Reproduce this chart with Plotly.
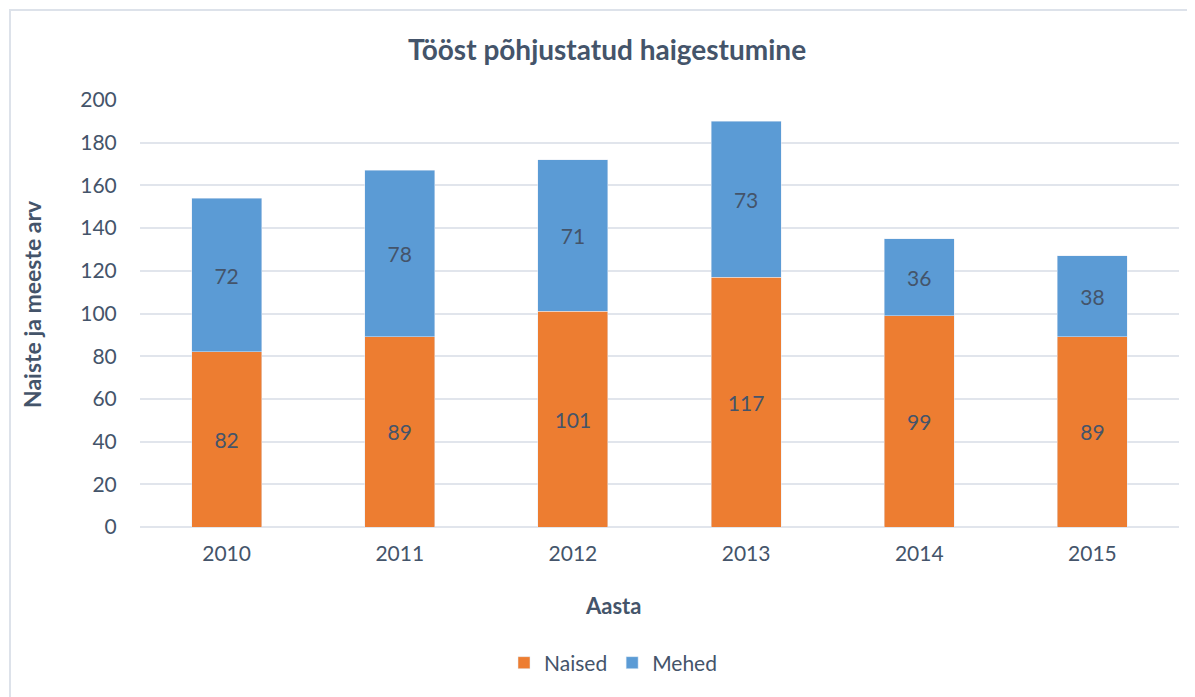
import plotly.graph_objects as go

years = ["2010", "2011", "2012", "2013", "2014", "2015"]
naised = [82, 89, 101, 117, 99, 89]
mehed = [72, 78, 71, 73, 36, 38]

W, H = 1195, 697
OFF = 8  # page offset of the figure in the browser
# target page-pixel positions of the plot area
PL, PR, PT, PB = 140, 1179, 100, 527
L, T = PL - OFF, PT - OFF
R = W - (PR - OFF)
B = H - (PB - OFF)
pw, ph = W - L - R, H - T - B

def px_x(x):
    return (x - OFF - L) / pw

def px_y(y):
    return (H - B - (y - OFF)) / ph

txt = "#44546A"
font = "Lato"

fig = go.Figure()
fig.add_trace(go.Bar(x=years, y=naised, name="Naised", marker_color="#ED7D31",
                     text=naised, textposition="inside", insidetextanchor="middle",
                     textfont=dict(color=txt, size=21, family=font)))
fig.add_trace(go.Bar(x=years, y=mehed, name="Mehed", marker_color="#5B9BD5",
                     text=mehed, textposition="inside", insidetextanchor="middle",
                     textfont=dict(color=txt, size=21, family=font)))

fig.update_layout(
    width=W, height=H,
    margin=dict(l=L, r=R, t=T, b=B),
    barmode="stack", bargap=0.595,
    plot_bgcolor="white", paper_bgcolor="white",
    font=dict(family=font, color=txt, size=21),
    title=dict(text="<b>Tööst põhjustatud haigestumine</b>", x=(607 - OFF) / W, xref="container",
               xanchor="center", y=1 - (50 - OFF) / H, yref="container", yanchor="middle",
               font=dict(size=28, color=txt, family=font)),
    xaxis=dict(showline=False, ticks="", tickfont=dict(size=21, color=txt), ticklabelstandoff=12),
    yaxis=dict(range=[0, 200], dtick=20, gridcolor="#E1E5EC", gridwidth=2, zeroline=True,
               zerolinecolor="#E1E5EC", zerolinewidth=2, tickfont=dict(size=21, color=txt),
               ticks="outside", ticklen=18, tickcolor="white"),
    legend=dict(orientation="h", x=(613 - OFF) / W, xref="container", xanchor="center",
                y=1 - (663 - OFF) / H, yref="container", yanchor="middle",
                font=dict(size=21, color=txt), traceorder="normal", itemwidth=30),
    shapes=[dict(type="rect", xref="paper", yref="paper",
                 x0=px_x(10), x1=px_x(1220), y0=px_y(720), y1=px_y(10),
                 line=dict(color="#DDE2EA", width=2), fillcolor="rgba(0,0,0,0)", layer="below")],
    annotations=[
        dict(text="<b>Aasta</b>", xref="paper", yref="paper", x=px_x(613), y=px_y(605),
             showarrow=False, xanchor="center", yanchor="middle", font=dict(size=22, color=txt)),
        dict(text="<b>Naiste ja meeste arv</b>", xref="paper", yref="paper", x=px_x(32), y=px_y(304),
             showarrow=False, textangle=-90, xanchor="center", yanchor="middle",
             font=dict(size=23, color=txt)),
    ],
)

fig.write_html("out.html")
